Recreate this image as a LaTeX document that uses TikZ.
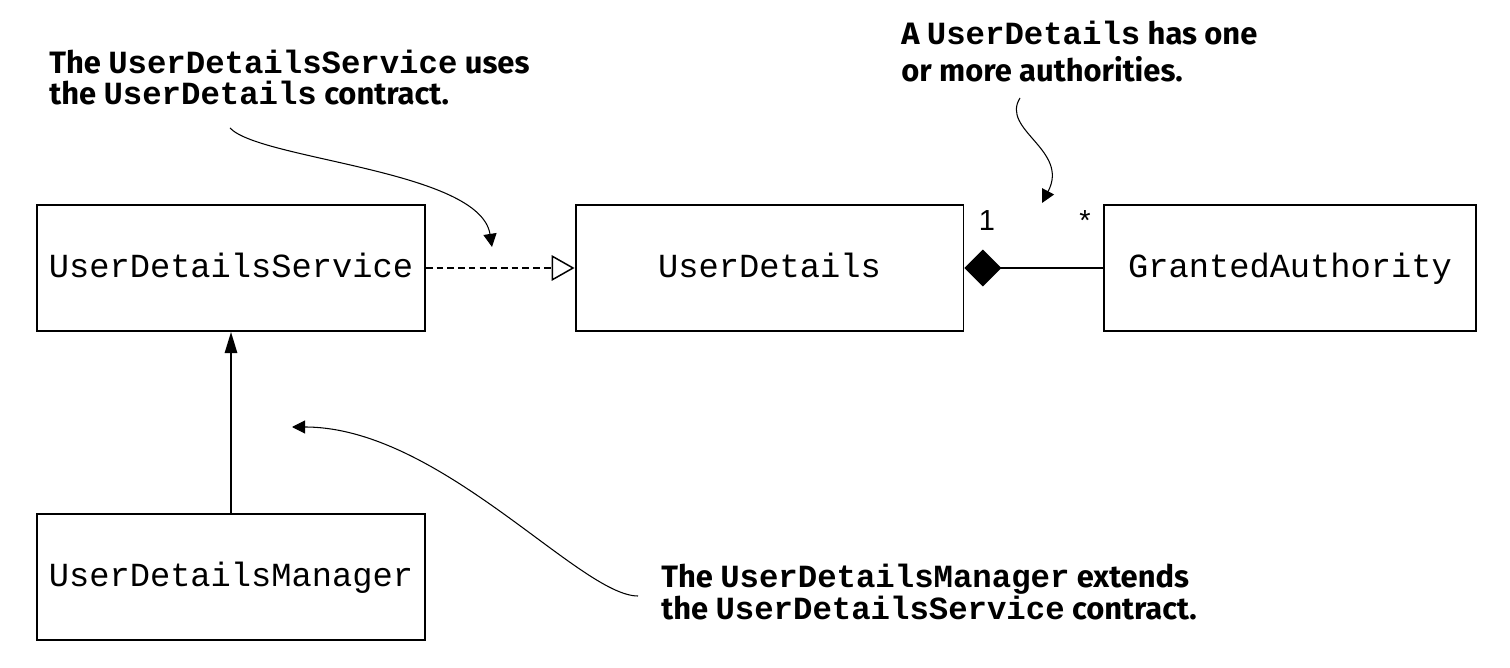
\documentclass[tikz,border=0pt]{standalone}
\usepackage{fontspec}
\usetikzlibrary{arrows.meta}
\newfontfamily\notefont{Fira Sans}
\newfontfamily\codefont{Liberation Mono}
\newfontfamily\multfont{Liberation Sans}
\newcommand{\code}[1]{{\codefont\bfseries\fontsize{18.4pt}{18.2pt}\selectfont #1}}

\begin{document}
\begin{tikzpicture}[x=0.02cm, y=-0.02cm,
    classbox/.style={draw, line width=1.1pt, minimum width=7.76cm, minimum height=2.52cm,
        text height=14pt, text depth=3.2pt,
        font={\codefont\fontsize{19.2pt}{20pt}\selectfont}},
    note/.style={align=left, inner sep=0pt, font={\notefont\bfseries\fontsize{17.6pt}{18.2pt}\selectfont}},
    mult/.style={inner sep=0pt, font={\multfont\fontsize{16.5pt}{16.5pt}\selectfont}},
    callout/.style={line width=0.6pt, -{Triangle[length=7.5pt,width=7.5pt]}}]

        \useasboundingbox (0,0) rectangle (1510,668);

        % the four classes
        \node[classbox] (service) at (231,268) {UserDetailsService};
        \node[classbox] (details) at (769.5,268) {UserDetails};
        \node[classbox, minimum width=7.44cm] (granted) at (1290,268) {GrantedAuthority};
        \node[classbox] (manager) at (231,577) {UserDetailsManager};

        % relations
        \draw[line width=0.85pt, dash pattern=on 3.8pt off 2.3pt,
              -{Triangle[open,length=13pt,width=14.5pt]}] (service) -- (details);
        \draw[line width=1.1pt, {Diamond[length=21pt,width=21pt]}-] (details) -- (granted);
        \draw[line width=1.1pt, -{Triangle[length=12pt,width=7pt]}] (manager) -- (service);

        \node[mult, anchor=base] (one) at (987,231) {1};
        \node[mult, anchor=base] (many) at (1085,231) {*};

        % notes (base = baseline of the last line)
        \node[note, anchor=base west] (usesnote) at (49,105)
            {The \code{UserDetailsService} uses\\the \code{UserDetails} contract.};
        \node[note, anchor=base west, font={\notefont\bfseries\fontsize{17.6pt}{21.6pt}\selectfont}] (hasnote) at (901,82)
            {A \code{UserDetails} has one\\or more authorities.};
        \node[note, anchor=base west] (extendsnote) at (661,619)
            {The \code{UserDetailsManager} extends\\the \code{UserDetailsService} contract.};

        \coordinate (usesfrom) at (230,128);
        \coordinate (usesto) at (492,247);
        \coordinate (hasfrom) at (1020,98);
        \coordinate (hasto) at (1042,203);
        \coordinate (extendsfrom) at (638,596);
        \coordinate (extendsto) at (292,427);

        \draw[callout] (usesfrom) .. controls (260,160) and (480,170) .. (usesto);
        \draw[callout] (hasfrom) .. controls (1000,130) and (1070,150) .. (hasto);
        \draw[callout] (extendsfrom) .. controls (580,596) and (440,427) .. (extendsto);

\end{tikzpicture}
\end{document}
